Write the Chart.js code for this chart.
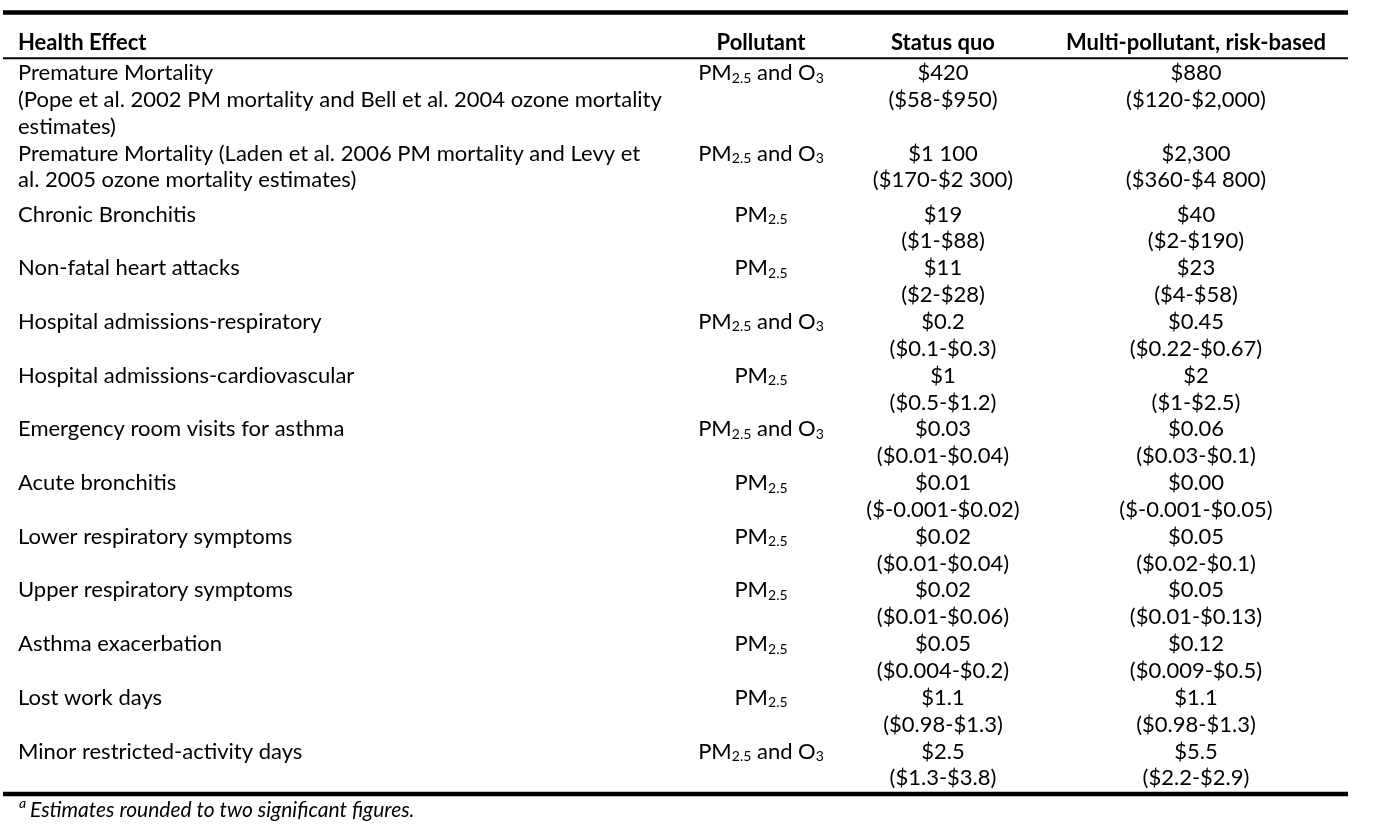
<!DOCTYPE html>
<html><head><meta charset="utf-8">
<script src="https://cdn.jsdelivr.net/npm/chart.js@4/dist/chart.umd.min.js"></script>
<style>html,body{margin:0;padding:0;background:#fff;}#wrap{width:1378px;height:830px;position:relative;}</style>
</head><body><div id="wrap"><canvas id="c" width="1378" height="830"></canvas></div>
<script>
// ---------- data ----------
const columnHeaders = ['Health Effect', 'Pollutant', 'Status quo', 'Multi-pollutant, risk-based'];
const healthEffects = [
  ['Premature Mortality', '(Pope et al. 2002 PM mortality and Bell et al. 2004 ozone mortality', 'estimates)'],
  ['Premature Mortality (Laden et al. 2006 PM mortality and Levy et', 'al. 2005 ozone mortality estimates)'],
  ['Chronic Bronchitis'],
  ['Non-fatal heart attacks'],
  ['Hospital admissions-respiratory'],
  ['Hospital admissions-cardiovascular'],
  ['Emergency room visits for asthma'],
  ['Acute bronchitis'],
  ['Lower respiratory symptoms'],
  ['Upper respiratory symptoms'],
  ['Asthma exacerbation'],
  ['Lost work days'],
  ['Minor restricted-activity days']
];
const pollutants = ['PM2.5 and O3', 'PM2.5 and O3', 'PM2.5', 'PM2.5', 'PM2.5 and O3', 'PM2.5', 'PM2.5 and O3',
  'PM2.5', 'PM2.5', 'PM2.5', 'PM2.5', 'PM2.5', 'PM2.5 and O3'];
const statusQuo = ['$420', '$1 100', '$19', '$11', '$0.2', '$1', '$0.03', '$0.01', '$0.02', '$0.02', '$0.05', '$1.1', '$2.5'];
const statusQuoRange = ['($58-$950)', '($170-$2 300)', '($1-$88)', '($2-$28)', '($0.1-$0.3)', '($0.5-$1.2)', '($0.01-$0.04)',
  '($-0.001-$0.02)', '($0.01-$0.04)', '($0.01-$0.06)', '($0.004-$0.2)', '($0.98-$1.3)', '($1.3-$3.8)'];
const multiPollutant = ['$880', '$2,300', '$40', '$23', '$0.45', '$2', '$0.06', '$0.00', '$0.05', '$0.05', '$0.12', '$1.1', '$5.5'];
const multiPollutantRange = ['($120-$2,000)', '($360-$4 800)', '($2-$190)', '($4-$58)', '($0.22-$0.67)', '($1-$2.5)', '($0.03-$0.1)',
  '($-0.001-$0.05)', '($0.02-$0.1)', '($0.01-$0.13)', '($0.009-$0.5)', '($0.98-$1.3)', '($2.2-$2.9)'];
const footnoteMark = 'a';
const footnote = 'Estimates rounded to two significant figures.';

// ---------- layout (line units on the y scale, pixels on the x scale) ----------
const LINE = 26.85, FIRST = 73;
const colX = [18, 761, 943, 1196];
const extraGapAfter = {1: 0.27};
const rowStart = [];
(function () { let s = 0; healthEffects.forEach((l, i) => { rowStart.push(s); s += Math.max(l.length, 2) + (extraGapAfter[i] || 0); }); })();
const yHeader = (43 - FIRST) / LINE, yTopRule = (12.5 - FIRST) / LINE, yHeadRule = (58.3 - FIRST) / LINE;
const yBottomRule = (794 - FIRST) / LINE, yFoot = (810 - FIRST) / LINE;
const ruleX0 = 3, ruleX1 = 1348;

const FONT = 'Lato, "Open Sans", sans-serif';
const BODY = 22, SUB = 14;

function splitSub(s) {
  const out = []; const re = /(PM)(2\.5)|(O)(3)/g; let last = 0, m;
  while ((m = re.exec(s))) {
    if (m.index > last) out.push({t: s.slice(last, m.index)});
    if (m[1]) { out.push({t: m[1]}); out.push({t: m[2], sub: true}); }
    else { out.push({t: m[3]}); out.push({t: m[4], sub: true}); }
    last = re.lastIndex;
  }
  if (last < s.length) out.push({t: s.slice(last)});
  return out;
}
function drawRich(ctx, segs, x, y, align) {
  ctx.textBaseline = 'middle';
  ctx.textAlign = 'left';
  let w = 0;
  segs.forEach(sg => { ctx.font = (sg.sub ? SUB : BODY) + 'px ' + FONT; sg.w = ctx.measureText(sg.t).width; w += sg.w; });
  let cx = align === 'center' ? x - w / 2 : x;
  segs.forEach(sg => {
    ctx.font = (sg.sub ? SUB : BODY) + 'px ' + FONT;
    ctx.fillText(sg.t, cx, sg.sub ? y + 5 : y);
    cx += sg.w;
  });
}

const tablePlugin = {
  id: 'tableText',
  afterDatasetsDraw(chart) {
    const ctx = chart.ctx, xs = chart.scales.x, ys = chart.scales.y;
    ctx.save();
    ctx.fillStyle = '#000';
    ctx.strokeStyle = '#000';
    const rule = (yv, w) => { const py = ys.getPixelForValue(yv); ctx.lineWidth = w; ctx.beginPath();
      ctx.moveTo(xs.getPixelForValue(ruleX0), py); ctx.lineTo(xs.getPixelForValue(ruleX1), py); ctx.stroke(); };
    rule(yTopRule, 4.5); rule(yHeadRule, 2); rule(yBottomRule, 4.5);
    ctx.font = 'bold ' + BODY + 'px ' + FONT; ctx.textBaseline = 'middle';
    columnHeaders.forEach((h, i) => {
      ctx.textAlign = i === 0 ? 'left' : 'center';
      ctx.fillText(h, xs.getPixelForValue(colX[i]), ys.getPixelForValue(yHeader));
    });
    chart.data.datasets.forEach((ds, di) => {
      const meta = chart.getDatasetMeta(di);
      meta.data.forEach((pt, i) => {
        const raw = ds.data[i];
        ctx.fillStyle = '#000';
        if (ds.kind === 'label') drawRich(ctx, [{t: raw.text}], pt.x, pt.y, 'left');
        else if (ds.kind === 'pollutant') drawRich(ctx, splitSub(raw.text), pt.x, pt.y, 'center');
        else drawRich(ctx, [{t: raw.text}], pt.x, pt.y, 'center');
      });
    });
    ctx.textAlign = 'left'; ctx.textBaseline = 'middle';
    ctx.font = 'italic 14px ' + FONT;
    ctx.fillText(footnoteMark, xs.getPixelForValue(19), ys.getPixelForValue(yFoot) - 7);
    ctx.font = 'italic 21px ' + FONT;
    ctx.fillText(footnote, xs.getPixelForValue(30), ys.getPixelForValue(yFoot));
    ctx.restore();
  }
};

const labelPts = [];
healthEffects.forEach((lines, r) => lines.forEach((t, k) => labelPts.push({x: colX[0], y: rowStart[r] + k, text: t})));
const pollPts = pollutants.map((t, r) => ({x: colX[1], y: rowStart[r], text: t}));
const sqPts = statusQuo.map((t, r) => ({x: colX[2], y: rowStart[r], text: t}))
  .concat(statusQuoRange.map((t, r) => ({x: colX[2], y: rowStart[r] + 1, text: t})));
const mpPts = multiPollutant.map((t, r) => ({x: colX[3], y: rowStart[r], text: t}))
  .concat(multiPollutantRange.map((t, r) => ({x: colX[3], y: rowStart[r] + 1, text: t})));

new Chart(document.getElementById('c'), {
  type: 'scatter',
  data: {
    datasets: [
      {label: columnHeaders[0], kind: 'label', data: labelPts, pointRadius: 0},
      {label: columnHeaders[1], kind: 'pollutant', data: pollPts, pointRadius: 0},
      {label: columnHeaders[2], kind: 'value', data: sqPts, pointRadius: 0},
      {label: columnHeaders[3], kind: 'value', data: mpPts, pointRadius: 0}
    ]
  },
  options: {
    responsive: false, animation: false, events: [],
    layout: {padding: 0},
    plugins: {legend: {display: false}, tooltip: {enabled: false}, title: {display: false}},
    scales: {
      x: {type: 'linear', display: false, min: 0, max: 1378},
      y: {type: 'linear', display: false, reverse: true, min: -FIRST / LINE, max: (830 - FIRST) / LINE}
    }
  },
  plugins: [tablePlugin]
});
</script></body></html>
